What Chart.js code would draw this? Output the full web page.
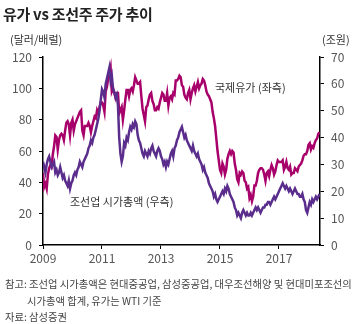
<!DOCTYPE html>
<html>
<head>
<meta charset="utf-8">
<script src="https://cdn.jsdelivr.net/npm/chart.js@4.4.0/dist/chart.umd.min.js"></script>
<style>
  body { margin: 0; width: 360px; height: 324px; position: relative; background: #fff; font-family: "Noto Sans CJK KR", "Noto Sans", sans-serif; color: #333; overflow: hidden; }
  #wrap { position: absolute; left: 0; top: 0; width: 360px; height: 324px; }
  .txt { position: absolute; white-space: nowrap; line-height: 1; }
  #title { left: 3px; top: 6px; font-size: 15px; font-weight: bold; color: #222; letter-spacing: -0.3px; }
  #unitL { left: 10px; top: 34px; font-size: 11px; }
  #unitR { left: 322px; top: 34px; font-size: 11px; }
  #labOil { left: 215px; top: 82px; font-size: 11px; }
  #labShip { left: 70px; top: 196px; font-size: 11px; }
  .note { font-size: 10.3px; color: #444; }
</style>
</head>
<body>
<div id="wrap"><canvas id="chart" width="360" height="324"></canvas></div>
<div class="txt" id="title">유가 vs 조선주 주가 추이</div>
<div class="txt" id="unitL">(달러/배럴)</div>
<div class="txt" id="unitR">(조원)</div>
<div class="txt" id="labOil">국제유가 (좌측)</div>
<div class="txt" id="labShip">조선업 시가총액 (우측)</div>
<div class="txt note" style="left:5px;top:279px;">참고: 조선업 시가총액은 현대중공업, 삼성중공업, 대우조선해양 및 현대미포조선의</div>
<div class="txt note" style="left:27px;top:296px;">시가총액 합계, 유가는 WTI 기준</div>
<div class="txt note" style="left:5px;top:312px;">자료: 삼성증권</div>
<script>
// two points per month, Jan 2009 .. May 2018
let startYear = 2009;
let xTicks = [2009, 2011, 2013, 2015, 2017];
let leftTicks = [0, 20, 40, 60, 80, 100, 120];
let rightTicks = [0, 10, 20, 30, 40, 50, 60, 70];

// WTI, 달러/배럴
let oilPrice = [
  46,37, 39,36, 45,49, 51,50, 58,63, 70,69, 61,67, 70,71, 70,67, 73,78, 79,77, 70,78,
  80,73, 77,79, 81,83, 85,86, 73,70, 76,76, 76,78, 76,72, 76,79, 82,81, 86,84, 88,91,
  91,89, 85,98, 101,106, 109,113, 98,100, 97,94, 97,97, 84,86, 88,80, 86,93, 99,99, 95,99,
  100,98, 102,107, 105,103, 103,104, 95,87, 83,79, 88,89, 93,96, 97,92, 90,86, 86,88, 87,91,
  94,97, 96,92, 92,97, 89,94, 95,93, 97,96, 105,105, 106,108, 107,102, 101,96, 94,93, 97,99,
  93,97, 100,102, 98,101, 104,100, 102,103, 106,105, 102,98, 96,95, 93,91, 85,81, 76,68, 60,54,
  48,46, 52,50, 45,48, 55,58, 60,58, 60,59, 52,48, 42,40, 46,45, 47,46, 41,40, 36,37,
  30,32, 28,31, 38,38, 41,46, 48,49, 49,48, 45,41, 46,47, 44,48, 51,49, 45,47, 51,54,
  53,53, 53,54, 48,50, 53,49, 48,50, 45,46, 46,49, 48,47, 50,51, 52,54, 57,58, 58,60,
  64,65, 61,63, 62,65, 67,68, 71,72
];

// 조선업 시가총액, 조원
let shipCap = [
  31,29, 27,30, 32,33, 31,29, 30,31, 27,28, 26,27, 29,27, 25,26, 24,23, 22,24, 21,23,
  24,26, 27,26, 28,29, 31,30, 29,31, 32,33, 34,36, 37,39, 38,40, 41,43, 45,47, 50,54,
  58,57, 55,60, 62,64, 66,61, 63,58, 57,55, 56,52, 40,34, 31,33, 38,37, 40,39, 42,44,
  43,45, 44,46, 45,41, 39,38, 36,34, 33,35, 34,33, 35,34, 36,37, 35,34, 33,35, 36,35,
  33,32, 30,31, 29,31, 30,32, 34,35, 33,36, 37,39, 40,42, 43,44, 42,40, 41,39, 38,37,
  36,35, 37,35, 34,33, 34,32, 31,30, 28,29, 27,26, 25,23, 22,21, 20,18, 19,17, 16,17,
  18,19, 20,19, 21,20, 22,21, 19,18, 17,16, 14,13, 11,12, 11,10, 12,13, 12,11, 12,11,
  11,12, 11,12, 13,14, 13,14, 13,12, 13,14, 14,15, 15,16, 16,15, 16,17, 18,17, 18,19,
  20,21, 22,23, 22,21, 22,21, 20,21, 20,19, 20,21, 20,19, 19,18, 18,19, 17,16, 13,12,
  14,16, 15,17, 16,17, 18,17, 18,19
];

function toPoints(arr) {
  return arr.map(function (v, i) {
    return { x: startYear + i / 24, y: v };
  });
}

let axisFont = { family: "Noto Sans CJK KR", size: 12 };
let tickColor = "#555";

const data = {
  datasets: [
    {
      label: "조선업 시가총액 (우측)",
      data: toPoints(shipCap),
      borderColor: "#5a2d8c",
      borderWidth: 2.5,
      pointRadius: 0,
      tension: 0,
      yAxisID: "yR",
      order: 0,
    },
    {
      label: "국제유가 (좌측)",
      data: toPoints(oilPrice),
      borderColor: "#a8006b",
      borderWidth: 2.5,
      pointRadius: 0,
      tension: 0,
      yAxisID: "yL",
      order: 1,
    },
  ],
};

const config = {
  type: "line",
  data: data,
  options: {
    responsive: false,
    animation: false,
    layout: { padding: { left: 0, right: 0, top: 57, bottom: 59 } },
    plugins: { legend: { display: false }, tooltip: { enabled: false } },
    scales: {
      x: {
        type: "linear",
        min: 2009,
        max: 2018.39,
        afterBuildTicks: function (s) {
          s.ticks = xTicks.map(function (v) { return { value: v }; });
        },
        afterFit: function (s) { s.height = 20; },
        border: { color: "#000", width: 1.5 },
        grid: { drawOnChartArea: false, tickLength: 4, color: "#000" },
        ticks: { color: tickColor, font: axisFont, padding: 2, maxRotation: 0,
          callback: function (v) { return String(v); } },
      },
      yL: {
        position: "left",
        min: 0,
        max: 120,
        afterBuildTicks: function (s) {
          s.ticks = leftTicks.map(function (v) { return { value: v }; });
        },
        afterFit: function (s) { s.width = 43; },
        border: { color: "#000", width: 1.5 },
        grid: { drawOnChartArea: false, tickLength: 4, color: "#000" },
        ticks: { color: tickColor, font: axisFont, padding: 7 },
      },
      yR: {
        position: "right",
        min: 0,
        max: 70,
        afterBuildTicks: function (s) {
          s.ticks = rightTicks.map(function (v) { return { value: v }; });
        },
        afterFit: function (s) { s.width = 40; },
        border: { color: "#000", width: 1.5 },
        grid: { drawOnChartArea: false, tickLength: 4, color: "#000" },
        ticks: { color: tickColor, font: axisFont, padding: 7 },
      },
    },
  },
};

const myChart = new Chart(document.getElementById("chart"), config);
</script>
</body>
</html>
